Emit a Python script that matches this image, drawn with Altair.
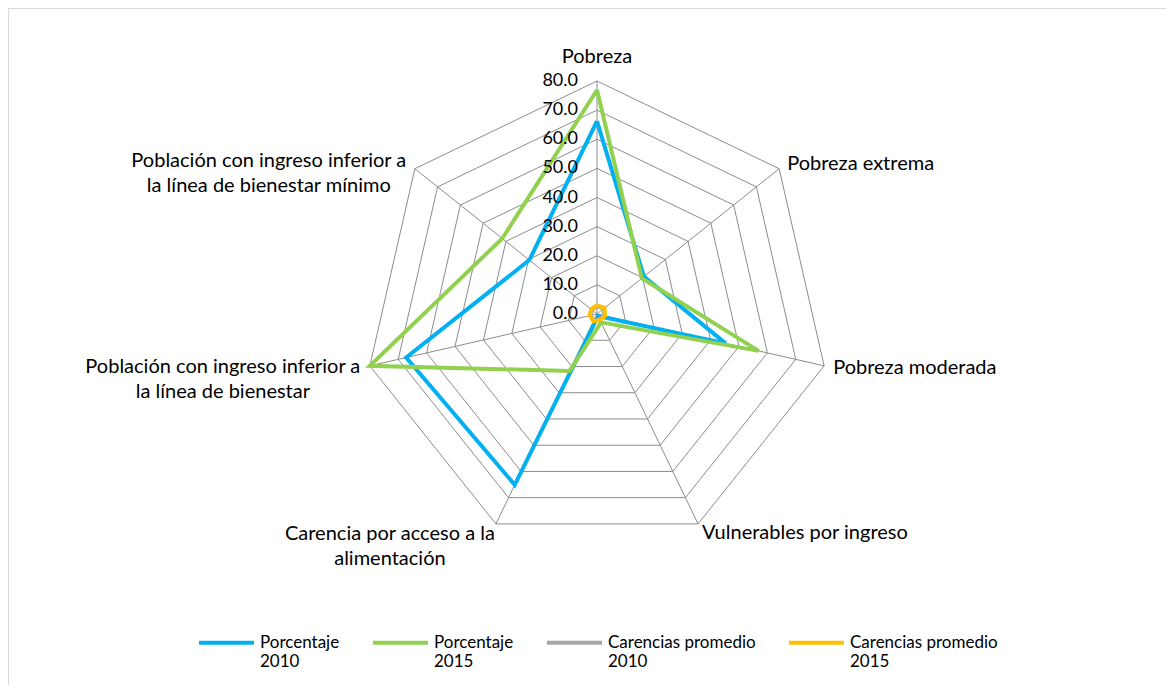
import math
import altair as alt
import pandas as pd

# ---------------- data ----------------
categories = [
    "Pobreza",
    "Pobreza extrema",
    "Pobreza moderada",
    "Vulnerables por ingreso",
    "Carencia por acceso a la\nalimentación",
    "Población con ingreso inferior a\nla línea de bienestar",
    "Población con ingreso inferior a\nla línea de bienestar mínimo",
]
series_names = ["Porcentaje 2010", "Porcentaje 2015", "Carencias promedio 2010", "Carencias promedio 2015"]
pct_2010 = [66.2, 20.6, 45.3, 0.8, 65.1, 67.2, 29.7]
pct_2015 = [76.9, 19.7, 56.9, 3.2, 21.7, 80.0, 41.6]
car_2010 = [2.7, 3.0, 2.5, 2.1, 2.5, 2.3, 2.3]
car_2015 = [3.0, 3.3, 2.8, 2.3, 2.8, 2.6, 2.6]
ring_levels = [10, 20, 30, 40, 50, 60, 70, 80]
tick_levels = [0, 10, 20, 30, 40, 50, 60, 70, 80]
colors = ["#00B0F0", "#92D050", "#A5A5A5", "#FFC000"]

# ---------------- layout ----------------
N = len(categories)
W, H = 1158, 677
CX, CY = 589, 306          # centre of the radar inside the view (px)
R80 = 233                   # radius of the 80 ring (px)
MAXV = 80
k = R80 / MAXV
xdom = [-CX / k, (W - CX) / k]
ydom = [(CY - H) / k, CY / k]
FONT = "Lato"

ANG = f"datum.idx * 2 * PI / {N}"

rows = []
for name, vals in zip(series_names, [pct_2010, pct_2015, car_2010, car_2015]):
    for i in range(N + 1):
        rows.append({"series": name, "idx": i, "value": vals[i % N]})
series_df = pd.DataFrame(rows)

ring_df = pd.DataFrame([{"level": lv, "idx": i} for lv in ring_levels for i in range(N + 1)])
spoke_df = pd.DataFrame({"idx": list(range(N)), "r": [MAXV] * N})
tick_df = pd.DataFrame({"level": tick_levels})
label_df = pd.DataFrame({"idx": list(range(N)), "label": categories, "r": [MAXV] * N})

xs = alt.Scale(domain=xdom, nice=False, zero=False)
ys = alt.Scale(domain=ydom, nice=False, zero=False)

def X(field):
    return alt.X(field, type="quantitative", scale=xs, axis=None)

def Y(field):
    return alt.Y(field, type="quantitative", scale=ys, axis=None)

grid_color = "#8C8C8C"

rings = alt.Chart(ring_df).transform_calculate(
    px=f"datum.level * sin({ANG})", py=f"datum.level * cos({ANG})"
).mark_line(color=grid_color, strokeWidth=1).encode(
    x=X("px"), y=Y("py"), detail="level:N", order="idx:Q"
)

spokes = alt.Chart(spoke_df).transform_calculate(
    px=f"datum.r * sin({ANG})", py=f"datum.r * cos({ANG})", zero="0"
).mark_rule(color=grid_color, strokeWidth=1).encode(
    x=X("zero"), y=Y("zero"), x2="px:Q", y2="py:Q"
)

ticks = alt.Chart(tick_df).transform_calculate(zero="0").mark_text(
    align="right", baseline="middle", dx=-19, font=FONT, fontSize=18, color="#000000"
).encode(x=X("zero"), y=Y("level"), text=alt.Text("level:Q", format=".1f"))

color_scale = alt.Scale(domain=series_names, range=colors)
legend = alt.Legend(
    title=None, orient="none", legendX=189, legendY=605, direction="horizontal",
    columns=4, columnPadding=25, symbolType="M-1,0H1", symbolSize=3025,
    symbolStrokeWidth=4, labelFont=FONT, labelFontSize=17, labelColor="#000000",
    labelOffset=4, labelBaseline="middle", labelLimit=300,
    labelExpr="[slice(datum.label, 0, lastindexof(datum.label, ' ')), slice(datum.label, lastindexof(datum.label, ' ') + 1)]",
)

line_layers = []
for s in series_names:
    line_layers.append(
        alt.Chart(series_df).transform_filter(alt.datum.series == s).transform_calculate(
            px=f"datum.value * sin({ANG})", py=f"datum.value * cos({ANG})"
        ).mark_line(strokeWidth=4, strokeJoin="miter").encode(
            x=X("px"), y=Y("py"), order="idx:Q",
            color=alt.Color("series:N", scale=color_scale, legend=legend, sort=series_names),
        )
    )

# per-label placement style: (align, dx, dy)
label_style = [
    ("center", 0, -24),
    ("left", 8, -5),
    ("left", 9, 2),
    ("left", 4, 9),
    ("center", -106, 10),
    ("center", -147, 1),
    ("center", -146, -8),
]
label_layers = []
for i, (al, dx, dy) in enumerate(label_style):
    label_layers.append(
        alt.Chart(label_df).transform_filter(alt.datum.idx == i).transform_calculate(
            px=f"datum.r * sin({ANG})", py=f"datum.r * cos({ANG})"
        ).mark_text(
            align=al, baseline="middle", dx=dx, dy=dy, font=FONT, fontSize=20,
            lineBreak="\n", lineHeight=25, color="#000000"
        ).encode(x=X("px"), y=Y("py"), text="label:N")
    )

chart = alt.layer(rings, spokes, *line_layers, ticks, *label_layers).properties(
    width=W, height=H, padding=0, background="#FFFFFF"
).configure_view(stroke="#D9D9D9", strokeWidth=1)

chart.save("out.html", embed_options={"renderer": "svg", "actions": False})
